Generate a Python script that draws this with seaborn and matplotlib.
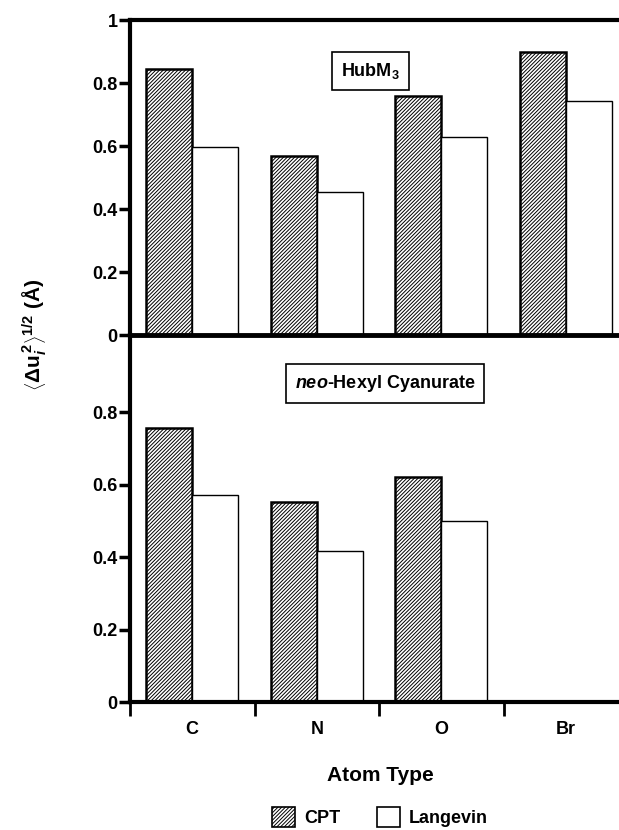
import numpy as np
import pandas as pd
import seaborn as sns
import matplotlib.pyplot as plt
from matplotlib.patches import Patch

# values
atoms = ['C', 'N', 'O', 'Br']
methods = ['CPT', 'Langevin']
hubm3_cpt = [0.845, 0.569, 0.759, 0.897]
hubm3_langevin = [0.598, 0.454, 0.628, 0.744]
neo_atoms = ['C', 'N', 'O']
neo_cpt = [0.757, 0.553, 0.622]
neo_langevin = [0.571, 0.417, 0.500]

HATCH = '/' * 9


def long_df(atom_list, cpt, lang):
    return pd.DataFrame({'atom': atom_list * 2,
                         'method': ['CPT'] * len(atom_list) + ['Langevin'] * len(atom_list),
                         'value': list(cpt) + list(lang)})


sns.set_style('ticks')
plt.rcParams['font.family'] = ['Liberation Sans', 'DejaVu Sans']
plt.rcParams['font.weight'] = 'bold'
plt.rcParams['mathtext.fontset'] = 'custom'
plt.rcParams['mathtext.rm'] = 'Liberation Sans:bold'
plt.rcParams['mathtext.bf'] = 'Liberation Sans:bold'
plt.rcParams['mathtext.it'] = 'Liberation Sans:italic'
plt.rcParams['hatch.linewidth'] = 0.7
for k in ['text.color', 'axes.labelcolor', 'xtick.color', 'ytick.color', 'axes.edgecolor']:
    plt.rcParams[k] = 'black'

fig = plt.figure(figsize=(6.19, 8.30), dpi=100)
left, right = 130 / 619, 628 / 619
ax1 = fig.add_axes([left, 1 - 335 / 830, right - left, (335 - 20) / 830])
ax2 = fig.add_axes([left, 1 - 702 / 830, right - left, (702 - 335) / 830])
# keep the top panel's zero line above the lower panel
ax1.set_zorder(3)
ax1.patch.set_visible(False)


def draw(ax, df):
    sns.barplot(data=df, x='atom', y='value', hue='method', order=atoms,
                hue_order=methods, palette=['white', 'white'], width=0.74,
                edgecolor='black', legend=False, ax=ax)
    for bar in ax.containers[0]:
        bar.set_hatch(HATCH)
        bar.set_linewidth(1.8)
    for bar in ax.containers[1]:
        bar.set_linewidth(1.0)
    ax.set_xlim(-0.5, 3.5)
    ax.set_xlabel('')
    ax.set_ylabel('')


draw(ax1, long_df(atoms, hubm3_cpt, hubm3_langevin))
draw(ax2, long_df(neo_atoms, neo_cpt, neo_langevin))

# top panel
ax1.set_ylim(0, 1)
ax1.set_yticks([0, 0.2, 0.4, 0.6, 0.8, 1])
ax1.set_yticklabels(['0', '0.2', '0.4', '0.6', '0.8', '1'])
ax1.tick_params(axis='x', bottom=False, labelbottom=False)
ax1.spines['right'].set_visible(False)
for s, lw in [('left', 3), ('top', 3), ('bottom', 3.5)]:
    ax1.spines[s].set_linewidth(lw)
ax1.text(1.43, 0.838, r'HubM$_\mathbf{3}$', fontsize=13, fontweight='bold',
         ha='center', va='center',
         bbox=dict(boxstyle='square,pad=0.5', fc='white', ec='black', lw=1.2))

# bottom panel
ax2.set_ylim(0, 1.014)
ax2.set_yticks([0, 0.2, 0.4, 0.6, 0.8])
ax2.set_yticklabels(['0', '0.2', '0.4', '0.6', '0.8'])
ax2.set_xticks([-0.5, 0.5, 1.5, 2.5, 3.5], minor=True)
ax2.tick_params(axis='x', which='major', length=0, pad=14, labelsize=13)
ax2.tick_params(axis='x', which='minor', length=10, width=2, direction='out')
ax2.spines['right'].set_visible(False)
ax2.spines['top'].set_visible(False)
for s in ['left', 'bottom']:
    ax2.spines[s].set_linewidth(3)
ax2.text(1.55, 0.881, r'$\mathit{neo}$-Hexyl Cyanurate', fontsize=13,
         fontweight='bold', ha='center', va='center',
         bbox=dict(boxstyle='square,pad=0.5', fc='white', ec='black', lw=1.2))

for ax in (ax1, ax2):
    ax.tick_params(axis='y', length=8, width=2.5, direction='out', labelsize=13, pad=1)
    for lab in ax.get_yticklabels() + ax.get_xticklabels():
        lab.set_fontweight('bold')

fig.text(380 / 619, 1 - 775 / 830, 'Atom Type', fontsize=15, fontweight='bold',
         ha='center', va='center')
fig.text(35 / 619, 1 - 335 / 830,
         r'$\left\langle \Delta\mathbf{u}_{i}^{\,2} \right\rangle^{1/2}$ (Å)',
         fontsize=15, rotation=90, ha='center', va='center')

handles = [Patch(facecolor='white', edgecolor='black', hatch=HATCH, lw=1.2),
           Patch(facecolor='white', edgecolor='black', lw=1.2)]
fig.legend(handles, methods, loc='center', ncol=2, frameon=False,
           bbox_to_anchor=(380 / 619, 1 - 817 / 830), handlelength=1.3,
           handleheight=1.3, handletextpad=0.5, columnspacing=2.0,
           prop={'weight': 'bold', 'size': 13})

fig.savefig('out.png', dpi=100)
